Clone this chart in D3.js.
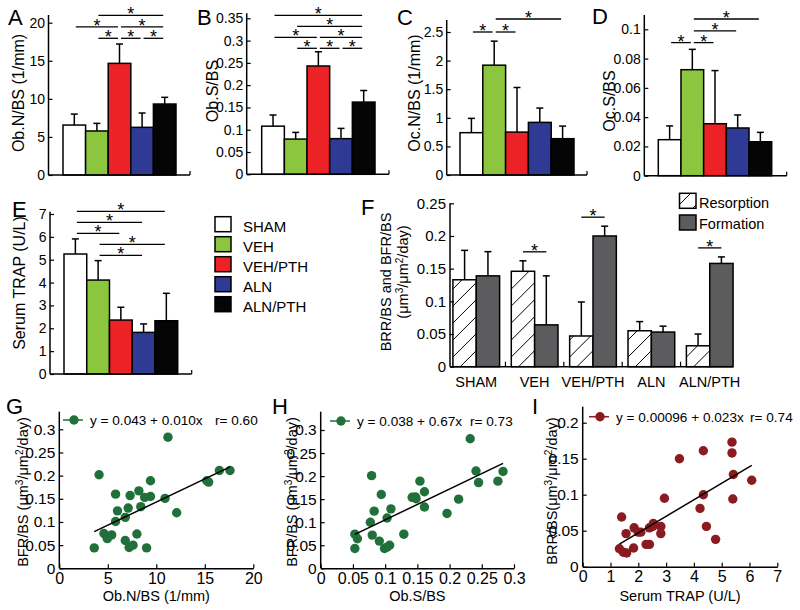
<!DOCTYPE html>
<html>
<head>
<meta charset="utf-8">
<script src="https://cdnjs.cloudflare.com/ajax/libs/d3/7.8.5/d3.min.js"></script>
<style>
  body { margin: 0; background: #fff; }
  svg { font-family: "Liberation Sans", Arial, sans-serif; }
  .tick text { font-family: "Liberation Sans Narrow", "Arial Narrow", "Liberation Sans", sans-serif; }
</style>
</head>
<body>
<div id="chart"></div>
<script>
// ---- data ----
const groups = ["SHAM", "VEH", "VEH/PTH", "ALN", "ALN/PTH"];

const obNbs = [6.56, 5.78, 14.66, 6.26, 9.32];
const obNbsSd = [1.44, 1.0, 2.54, 1.88, 0.88];
const obSbs = [0.108, 0.079, 0.243, 0.080, 0.162];
const obSbsSd = [0.025, 0.015, 0.032, 0.023, 0.026];
const ocNbs = [0.74, 1.92, 0.75, 0.92, 0.635];
const ocNbsSd = [0.25, 0.42, 0.78, 0.25, 0.22];
const ocSbs = [0.0246, 0.0724, 0.0355, 0.0326, 0.0232];
const ocSbsSd = [0.0094, 0.0139, 0.0363, 0.0089, 0.0064];
const trap = [5.25, 4.11, 2.36, 1.82, 2.33];
const trapSd = [0.66, 0.85, 0.56, 0.37, 1.2];

const brr = [0.133, 0.146, 0.047, 0.055, 0.032];
const brrSd = [0.045, 0.016, 0.052, 0.014, 0.018];
const bfr = [0.139, 0.064, 0.200, 0.053, 0.158];
const bfrSd = [0.037, 0.075, 0.015, 0.009, 0.010];

// significance brackets: [from group, to group, row]
const sigA = [[1, 4, 0], [0, 2, 1], [2, 4, 1], [1, 2, 2], [2, 3, 2], [3, 4, 2]];
const sigB = [[0, 4, 0], [1, 4, 1], [0, 2, 2], [2, 4, 2], [1, 2, 3], [2, 3, 3], [3, 4, 3]];
const sigC = [[1, 4, 0], [0, 1, 1], [1, 2, 1]];
const sigD = [[1, 4, 0], [1, 3, 1], [0, 1, 2], [1, 2, 2]];
const sigE = [[0, 4, 0], [0, 3, 1], [0, 2, 2], [1, 4, 3], [1, 3, 4]];
const sigF = [1, 2, 4];

const ticksA = [0, 5, 10, 15, 20];
const ticksB = [0, 0.05, 0.1, 0.15, 0.2, 0.25, 0.3, 0.35];
const ticksC = [0, 0.5, 1, 1.5, 2, 2.5];
const ticksD = [0, 0.02, 0.04, 0.06, 0.08, 0.1];
const ticksE = [0, 1, 2, 3, 4, 5, 6, 7];
const ticksF = [0, 0.05, 0.1, 0.15, 0.2, 0.25];

// scatter data
const gObN = [3.6, 4.1, 4.6, 4.9, 4.95, 5.4, 5.8, 5.8, 6.0, 6.8, 6.8, 7.1, 7.3, 7.2, 7.6, 8.0, 8.2, 8.4, 8.8, 9.0, 9.4, 9.4, 10.9, 11.2, 12.1, 15.2, 15.4, 16.5, 17.6];
const gBfr = [0.044, 0.202, 0.075, 0.068, 0.064, 0.072, 0.160, 0.101, 0.124, 0.060, 0.110, 0.130, 0.157, 0.045, 0.050, 0.074, 0.167, 0.133, 0.153, 0.044, 0.155, 0.189, 0.151, 0.283, 0.120, 0.189, 0.186, 0.211, 0.211];
const hObS = [0.053, 0.053, 0.057, 0.077, 0.079, 0.080, 0.083, 0.091, 0.094, 0.099, 0.103, 0.103, 0.107, 0.109, 0.129, 0.142, 0.147, 0.148, 0.154, 0.161, 0.161, 0.196, 0.214, 0.232, 0.241, 0.245, 0.275, 0.283];
const hBfr = [0.043, 0.074, 0.064, 0.100, 0.201, 0.072, 0.124, 0.059, 0.160, 0.043, 0.109, 0.046, 0.050, 0.129, 0.074, 0.154, 0.155, 0.151, 0.189, 0.166, 0.133, 0.119, 0.150, 0.281, 0.211, 0.186, 0.189, 0.210];
const iTrap = [1.32, 1.40, 1.46, 1.56, 1.58, 1.83, 1.85, 2.0, 2.09, 2.28, 2.40, 2.40, 2.52, 2.54, 2.81, 2.81, 2.94, 3.48, 4.22, 4.34, 4.34, 4.45, 4.78, 5.37, 5.37, 5.40, 5.42, 6.08];
const iBrr = [0.025, 0.069, 0.020, 0.046, 0.019, 0.026, 0.054, 0.048, 0.048, 0.031, 0.031, 0.054, 0.056, 0.060, 0.056, 0.046, 0.095, 0.150, 0.081, 0.161, 0.100, 0.056, 0.038, 0.173, 0.158, 0.094, 0.128, 0.120];

// regression: [intercept, slope]
const gFit = [0.043, 0.010];
const hFit = [0.038, 0.67];
const iFit = [0.00096, 0.023];
const fitLabels = ["y = 0.043 + 0.010x", "y = 0.038 + 0.67x", "y = 0.00096 + 0.023x"];
const rLabels = ["r= 0.60", "r= 0.73", "r= 0.74"];

const ticksGx = [0, 5, 10, 15, 20];
const ticksHx = [0, 0.05, 0.1, 0.15, 0.2, 0.25, 0.3];
const ticksIx = [0, 1, 2, 3, 4, 5, 6, 7];
const ticksGHy = [0, 0.05, 0.1, 0.15, 0.2, 0.25, 0.3];
const ticksIy = [0, 0.05, 0.1, 0.15, 0.2];

// ---- style ----
const groupColors = ["#ffffff", "#8cc63f", "#ec2227", "#2e3a94", "#050505"];
const formationColor = "#5c5c5e";
const fmt = d3.format("~g");

const svg = d3.select("#chart").append("svg")
  .attr("width", 800)
  .attr("height", 610);

svg.append("defs").append("pattern")
  .attr("id", "hatch")
  .attr("patternUnits", "userSpaceOnUse")
  .attr("width", 17)
  .attr("height", 17)
  .append("path")
  .attr("d", "M-2,19 L19,-2 M-9,9 L9,-9 M8,26 L26,8")
  .attr("stroke", "#000")
  .attr("stroke-width", 1);

function panelLetter(t, x, y) {
  svg.append("text").attr("x", x).attr("y", y)
    .attr("font-size", 22).text(t);
}

// text with superscripts, parts = [[string, isSup], ...]
function richText(sel, parts) {
  parts.forEach(([s, sup]) => {
    const t = sel.append("tspan").text(s);
    if (sup) t.attr("baseline-shift", "super").attr("font-size", "70%");
  });
  return sel;
}

function yTitle(parts, x, y, size) {
  const t = svg.append("text")
    .attr("transform", `translate(${x},${y}) rotate(-90)`)
    .attr("text-anchor", "middle")
    .attr("font-size", size);
  richText(t, typeof parts === "string" ? [[parts, 0]] : parts);
}

function yAxis(g, y, ticks, ax, top, size, pad) {
  const axis = d3.axisLeft(y).tickValues(ticks).tickSize(-4).tickSizeOuter(0)
    .tickPadding(pad).tickFormat(fmt);
  const a = g.append("g").attr("transform", `translate(${ax},0)`).call(axis);
  a.select(".domain").remove();
  a.attr("font-family", null);
  a.selectAll("text").attr("font-size", size).attr("fill", "#000");
  a.selectAll("line").attr("stroke", "#000").attr("stroke-width", 1.2);
  g.append("line")
    .attr("x1", ax).attr("x2", ax)
    .attr("y1", y(0)).attr("y2", top)
    .attr("stroke", "#000").attr("stroke-width", 1.5);
}

function sigMark(g, x1, x2, yy) {
  g.append("line")
    .attr("x1", x1).attr("x2", x2).attr("y1", yy).attr("y2", yy)
    .attr("stroke", "#000").attr("stroke-width", 1.3);
  g.append("text")
    .attr("x", (x1 + x2) / 2).attr("y", yy + 5)
    .attr("text-anchor", "middle").attr("font-size", 18).text("*");
}

function errorBars(g, xs, tops, ends, y) {
  tops.forEach((v, i) => {
    g.append("line")
      .attr("x1", xs[i]).attr("x2", xs[i])
      .attr("y1", y(v)).attr("y2", y(ends[i]))
      .attr("stroke", "#000").attr("stroke-width", 1.5);
    g.append("line")
      .attr("x1", xs[i] - 3.5).attr("x2", xs[i] + 3.5)
      .attr("y1", y(ends[i])).attr("y2", y(ends[i]))
      .attr("stroke", "#000").attr("stroke-width", 1.5);
  });
}

function barPanel(p, values, sd, ticks, sig) {
  const g = svg.append("g");
  const x = d3.scaleBand().domain(d3.range(groups.length)).range([p.x0, p.x1]).padding(0);
  const y = d3.scaleLinear().domain([0, ticks[ticks.length - 1]]).range([p.y0, p.yTick]);

  g.selectAll("rect.bar")
    .data(values)
    .enter()
    .append("rect")
    .attr("class", "bar")
    .attr("x", (d, i) => x(i))
    .attr("y", (d) => y(d))
    .attr("width", x.bandwidth())
    .attr("height", (d) => p.y0 - y(d))
    .attr("fill", (d, i) => groupColors[i])
    .attr("stroke", "#000")
    .attr("stroke-width", 1.5);

  const cx = values.map((d, i) => x(i) + x.bandwidth() / 2);
  errorBars(g, cx, values, values.map((d, i) => d + sd[i]), y);

  yAxis(g, y, ticks, p.ax, p.top, 14, 3.5);
  g.append("line")
    .attr("x1", p.ax).attr("x2", p.xEnd).attr("y1", p.y0).attr("y2", p.y0)
    .attr("stroke", "#000").attr("stroke-width", 1.5);
  g.append("line")
    .attr("x1", p.xEnd).attr("x2", p.xEnd).attr("y1", p.y0).attr("y2", p.y0 - 4)
    .attr("stroke", "#000").attr("stroke-width", 1.2);

  sig.forEach(([a, b, row]) => {
    sigMark(g, cx[a] + 1.5, cx[b] - 1.5, p.sigTop + row * p.sigStep);
  });

  yTitle(p.title, p.tx, p.ty, 16);
  panelLetter(p.letter, p.lx, p.ly);
}

barPanel({ letter: "A", lx: 8, ly: 25, title: "Ob.N/BS (1/mm)", tx: 24, ty: 93,
  ax: 48.5, x0: 63, x1: 176, xEnd: 190, y0: 175, yTick: 22.7, top: 15, sigTop: 15.3, sigStep: 11.5 },
  obNbs, obNbsSd, ticksA, sigA);
barPanel({ letter: "B", lx: 197, ly: 25, title: "Ob.S/BS", tx: 218, ty: 91,
  ax: 246.7, x0: 261.7, x1: 375, xEnd: 389, y0: 174.3, yTick: 18.3, top: 13.3, sigTop: 15.3, sigStep: 11 },
  obSbs, obSbsSd, ticksB, sigB);
barPanel({ letter: "C", lx: 397, ly: 25, title: "Oc.N/BS (1/mm)", tx: 420, ty: 93,
  ax: 446.7, x0: 460, x1: 574, xEnd: 587, y0: 175, yTick: 32, top: 20, sigTop: 19, sigStep: 13 },
  ocNbs, ocNbsSd, ticksC, sigC);
barPanel({ letter: "D", lx: 592, ly: 24, title: "Oc.S/BS", tx: 615, ty: 101,
  ax: 644.3, x0: 658.3, x1: 771.7, xEnd: 786.7, y0: 175.7, yTick: 29.3, top: 15, sigTop: 19, sigStep: 11.8 },
  ocSbs, ocSbsSd, ticksD, sigD);
barPanel({ letter: "E", lx: 12, ly: 217, title: "Serum TRAP (U/L)", tx: 25, ty: 283,
  ax: 50, x0: 64, x1: 177.7, xEnd: 191.7, y0: 374, yTick: 214, top: 211.7, sigTop: 211.3, sigStep: 11 },
  trap, trapSd, ticksE, sigE);

// legend for groups
const legend = svg.append("g");
groups.forEach((name, i) => {
  legend.append("rect")
    .attr("x", 215).attr("y", 216.7 + i * 20).attr("width", 16).attr("height", 15)
    .attr("fill", groupColors[i]).attr("stroke", "#000").attr("stroke-width", 1.5);
  legend.append("text")
    .attr("x", 243).attr("y", 231.5 + i * 20).attr("font-size", 15).text(name);
});

// ---- panel F ----
(function () {
  const g = svg.append("g");
  const ax = 450, y0 = 366.7;
  const x = d3.scaleBand().domain(groups).range([ax, 736]).paddingInner(0.2).paddingOuter(0.05);
  const sub = d3.scaleBand().domain(["res", "form"]).range([0, x.bandwidth()]);
  const y = d3.scaleLinear().domain([0, 0.25]).range([y0, 203.3]);

  const rows = groups.map((gname, i) => ({ g: gname, res: brr[i], form: bfr[i] }));
  const grp = g.selectAll("g.grp").data(rows).enter().append("g")
    .attr("class", "grp")
    .attr("transform", (d) => `translate(${x(d.g)},0)`);
  grp.append("rect")
    .attr("x", sub("res")).attr("y", (d) => y(d.res))
    .attr("width", sub.bandwidth()).attr("height", (d) => y0 - y(d.res))
    .attr("fill", "url(#hatch)").attr("stroke", "#000").attr("stroke-width", 1.5);
  grp.append("rect")
    .attr("x", sub("form")).attr("y", (d) => y(d.form))
    .attr("width", sub.bandwidth()).attr("height", (d) => y0 - y(d.form))
    .attr("fill", formationColor).attr("stroke", "#000").attr("stroke-width", 1.5);

  const resX = groups.map((d) => x(d) + sub("res") + sub.bandwidth() / 2);
  const formX = groups.map((d) => x(d) + sub("form") + sub.bandwidth() / 2);
  errorBars(g, resX, brr, brr.map((d, i) => d + brrSd[i]), y);
  errorBars(g, formX, bfr, bfr.map((d, i) => d + bfrSd[i]), y);

  yAxis(g, y, ticksF, ax, 203.3, 15, 4);
  g.append("line")
    .attr("x1", ax).attr("x2", 733).attr("y1", y0).attr("y2", y0)
    .attr("stroke", "#000").attr("stroke-width", 1.5);
  groups.slice(1).forEach((d) => {
    const sx = x(d) - x.step() * x.paddingInner() / 2;
    g.append("line").attr("x1", sx).attr("x2", sx).attr("y1", y0).attr("y2", y0 - 5)
      .attr("stroke", "#000").attr("stroke-width", 1.2);
  });
  g.selectAll("text.glab").data(groups).enter().append("text")
    .attr("class", "glab")
    .attr("x", (d) => x(d) + x.bandwidth() / 2).attr("y", 386.5)
    .attr("text-anchor", "middle").attr("font-size", 14.5).text((d) => d);

  sigF.forEach((i) => {
    const top = Math.max(brr[i] + brrSd[i], bfr[i] + bfrSd[i]);
    sigMark(g, resX[i], formX[i], y(top) - 9);
  });

  // legend
  const lg = [["Resorption", "url(#hatch)"], ["Formation", formationColor]];
  lg.forEach(([name, fill], i) => {
    g.append("rect").attr("x", 679.5).attr("y", 193.3 + i * 21.7).attr("width", 16.5).attr("height", 15)
      .attr("fill", fill).attr("stroke", "#000").attr("stroke-width", 1.5);
    g.append("text").attr("x", 699).attr("y", 207.5 + i * 21).attr("font-size", 14.5).text(name);
  });

  const t = svg.append("text")
    .attr("transform", "translate(391,282) rotate(-90)")
    .attr("text-anchor", "middle").attr("font-size", 14.5);
  richText(t, [["BRR/BS and BFR/BS", 0]]);
  const t2 = svg.append("text")
    .attr("transform", "translate(408,272) rotate(-90)")
    .attr("text-anchor", "middle").attr("font-size", 14.5);
  richText(t2, [["(\u03bcm", 0], ["3", 1], ["/\u03bcm", 0], ["2", 1], ["/day)", 0]]);
  panelLetter("F", 361, 215);
})();

// ---- scatter panels ----
function scatterPanel(p, xs, ys, fit, k, color) {
  const g = svg.append("g");
  const x = d3.scaleLinear().domain(p.xDom).range([p.ax, p.xEndPx]);
  const y = d3.scaleLinear().domain(p.yDom).range([p.y0, p.yTick]);

  yAxis(g, y, p.yTicks, p.ax, p.top, 15.5, 4);
  const xa = g.append("g").attr("transform", `translate(0,${p.y0})`)
    .call(d3.axisBottom(x).tickValues(p.xTicks).tickSize(-4).tickSizeOuter(0).tickPadding(4).tickFormat(fmt));
  xa.attr("font-family", null);
  xa.select(".domain").attr("stroke", "#000").attr("stroke-width", 1.5);
  xa.selectAll("text").attr("font-size", 16).attr("fill", "#000");
  xa.selectAll("line").attr("stroke", "#000").attr("stroke-width", 1.2);

  const pts = xs.map((d, i) => [d, ys[i]]);
  g.selectAll("circle.pt").data(pts).enter().append("circle")
    .attr("class", "pt")
    .attr("cx", (d) => x(d[0])).attr("cy", (d) => y(d[1])).attr("r", 4.7)
    .attr("fill", color);

  const xmin = d3.min(xs), xmax = d3.max(xs);
  g.append("line")
    .attr("x1", x(xmin)).attr("y1", y(fit[0] + fit[1] * xmin))
    .attr("x2", x(xmax)).attr("y2", y(fit[0] + fit[1] * xmax))
    .attr("stroke", "#000").attr("stroke-width", 1.5);

  // legend
  g.append("line").attr("x1", p.lgx).attr("x2", p.lgx + 20).attr("y1", p.lgy).attr("y2", p.lgy)
    .attr("stroke", color).attr("stroke-width", 1.5);
  g.append("circle").attr("cx", p.lgx + 11).attr("cy", p.lgy).attr("r", 4.7).attr("fill", color);
  g.append("text").attr("x", p.lgx + 27).attr("y", p.lgy + 5).attr("font-size", 13.6).text(fitLabels[k]);
  g.append("text").attr("x", p.rx).attr("y", p.lgy + 5).attr("font-size", 13.6).text(rLabels[k]);

  g.append("text").attr("x", (p.ax + p.xEndPx) / 2).attr("y", 600.5)
    .attr("text-anchor", "middle").attr("font-size", 14.5).text(p.xTitle);
  const t = svg.append("text")
    .attr("transform", `translate(${p.tx},${p.ty}) rotate(-90)`)
    .attr("text-anchor", "middle").attr("font-size", 14.5);
  richText(t, p.yTitle);
  panelLetter(p.letter, p.lx, 414);
}

const supUnit = [["(\u03bcm", 0], ["3", 1], ["/\u03bcm", 0], ["2", 1], ["/day)", 0]];

scatterPanel({ letter: "G", lx: 6, ax: 59.3, xEndPx: 253.3, xDom: [0, 20], y0: 568.3, yTick: 429.3, yDom: [0, 0.3],
  top: 411.7, xTicks: ticksGx, yTicks: ticksGHy, lgx: 63, lgy: 420, rx: 215,
  xTitle: "Ob.N/BS (1/mm)", yTitle: [["BFR/BS ", 0]].concat(supUnit), tx: 28, ty: 492 },
  gObN, gBfr, gFit, 0, "#21703a");
scatterPanel({ letter: "H", lx: 272, ax: 320.7, xEndPx: 514, xDom: [0, 0.3], y0: 568.3, yTick: 430, yDom: [0, 0.3],
  top: 411.7, xTicks: ticksHx, yTicks: ticksGHy, lgx: 330, lgy: 421, rx: 470,
  xTitle: "Ob.S/BS", yTitle: [["BFR/BS ", 0]].concat(supUnit), tx: 297, ty: 492 },
  hObS, hBfr, hFit, 1, "#21703a");
scatterPanel({ letter: "I", lx: 532, ax: 582.7, xEndPx: 777.3, xDom: [0, 7], y0: 566.7, yTick: 422.7, yDom: [0, 0.2],
  top: 406.7, xTicks: ticksIx, yTicks: ticksIy, lgx: 589, lgy: 416.7, rx: 750,
  xTitle: "Serum TRAP (U/L)", yTitle: [["BRR/BS", 0]].concat(supUnit), tx: 557, ty: 491 },
  iTrap, iBrr, iFit, 2, "#8a1b20");
</script>
</body>
</html>
